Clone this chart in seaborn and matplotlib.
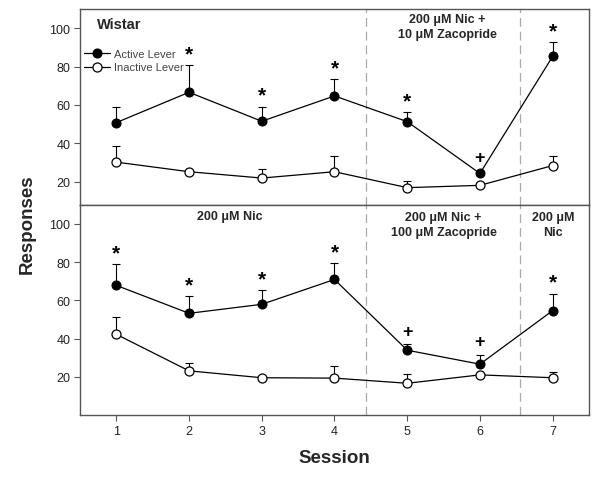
import matplotlib
matplotlib.use('Agg')
import matplotlib.pyplot as plt
import seaborn as sns
import pandas as pd

sns.set_style('ticks')
plt.rcParams['font.family'] = ['Liberation Sans', 'DejaVu Sans']

sessions = [1, 2, 3, 4, 5, 6, 7]

# Wistar panel (top)
top_active = [50.8, 66.6, 51.5, 64.7, 51.3, 24.3, 85.3]
top_active_err = [8.0, 14.0, 7.5, 8.6, 5.0, 1.5, 7.3]
top_inactive = [30.2, 25.2, 21.9, 25.2, 16.9, 18.1, 28.4]
top_inactive_err = [8.6, 0.5, 4.7, 8.4, 3.4, 1.2, 5.2]
top_marks = ['', '*', '*', '*', '*', '+', '*']

# second panel (bottom)
bot_active = [67.8, 53.2, 57.9, 70.9, 33.9, 26.6, 54.6]
bot_active_err = [11.1, 9.0, 7.3, 8.5, 3.0, 4.9, 8.8]
bot_inactive = [42.2, 23.1, 19.5, 19.3, 16.6, 21.0, 19.5]
bot_inactive_err = [8.9, 4.2, 1.0, 6.1, 4.6, 0.5, 3.1]
bot_marks = ['*', '*', '*', '*', '+', '+', '*']

phase_breaks = [4.43, 6.55]
yticks = [20, 40, 60, 80, 100]

frame_col = '#555555'
text_col = '#222222'


def draw_panel(ax, active, active_err, inactive, inactive_err, marks, ylim):
    df = pd.DataFrame({'session': sessions, 'active': active, 'inactive': inactive})
    zeros = [0] * len(sessions)
    ax.errorbar(sessions, active, yerr=[zeros, active_err], fmt='none',
                ecolor='black', elinewidth=0.8, capsize=3, capthick=0.8, zorder=2)
    ax.errorbar(sessions, inactive, yerr=[zeros, inactive_err], fmt='none',
                ecolor='black', elinewidth=0.8, capsize=3, capthick=0.8, zorder=2)
    sns.lineplot(data=df, x='session', y='active', ax=ax, color='black', lw=0.9,
                 marker='o', markersize=6.5, markerfacecolor='black',
                 markeredgecolor='black', label='Active Lever', zorder=3)
    sns.lineplot(data=df, x='session', y='inactive', ax=ax, color='black', lw=0.9,
                 marker='o', markersize=6.5, markerfacecolor='white',
                 markeredgecolor='black', markeredgewidth=0.9,
                 label='Inactive Lever', zorder=3)

    # significance marks above the error bars
    for s, m, v, e in zip(sessions, marks, active, active_err):
        if m == '*':
            ax.text(s, v + e + 6.0, m, ha='center', va='center', fontsize=15,
                    fontweight='bold', color='black')
        elif m == '+':
            ax.text(s, v + e + 7.0, m, ha='center', va='center', fontsize=13,
                    fontweight='bold', color='black')

    for b in phase_breaks:
        ax.axvline(b, color='#aaaaaa', lw=0.9, ls=(0, (7, 4)), zorder=1)

    ax.set_xlim(0.5, 7.5)
    ax.set_ylim(*ylim)
    ax.set_yticks(yticks)
    ax.set_xlabel('')
    ax.set_ylabel('')
    for sp in ax.spines.values():
        sp.set_visible(True)
        sp.set_color(frame_col)
        sp.set_linewidth(1.0)
    ax.tick_params(axis='both', direction='out', length=4, width=0.8,
                   color=frame_col, labelsize=9, labelcolor=text_col, pad=3)


fig = plt.figure(figsize=(6, 4.81), dpi=100)
ax_top = fig.add_axes([0.1333, 0.5723, 0.8484, 0.4069])
ax_bot = fig.add_axes([0.1333, 0.1351, 0.8484, 0.4372])

draw_panel(ax_top, top_active, top_active_err, top_inactive, top_inactive_err,
           top_marks, (8, 110))
draw_panel(ax_bot, bot_active, bot_active_err, bot_inactive, bot_inactive_err,
           bot_marks, (0, 110))

ax_top.set_xticks([])
ax_bot.set_xticks(sessions)

ax_bot.get_legend().remove()
ax_top.legend(loc='upper left', bbox_to_anchor=(-0.007, 0.835), frameon=False,
              fontsize=8, handlelength=2.3, handletextpad=0.4, labelspacing=0.3,
              borderpad=0.2, labelcolor='#444444')

ax_top.text(0.033, 0.923, 'Wistar', transform=ax_top.transAxes, fontsize=10.5,
            fontweight='bold', ha='left', va='center')

# condition labels
lab = dict(ha='center', va='center', fontsize=9, fontweight='bold', linespacing=1.3)
ax_top.text(5.55, 100.8, '200 \u03bcM Nic +\n10 \u03bcM Zacopride', **lab)
ax_bot.text(2.56, 103.9, '200 \u03bcM Nic', **lab)
ax_bot.text(5.5, 99.5, '200 \u03bcM Nic +\n100 \u03bcM Zacopride', **lab)
ax_bot.text(7.01, 99.5, '200 \u03bcM\nNic', **lab)

fig.text(27 / 600, 1 - 224.5 / 481, 'Responses', rotation=90, ha='center',
         va='center', fontsize=13.5, fontweight='bold')
fig.text(334.7 / 600, 1 - 459 / 481, 'Session', ha='center', va='center',
         fontsize=13.5, fontweight='bold')

fig.savefig('out.png', dpi=100)
